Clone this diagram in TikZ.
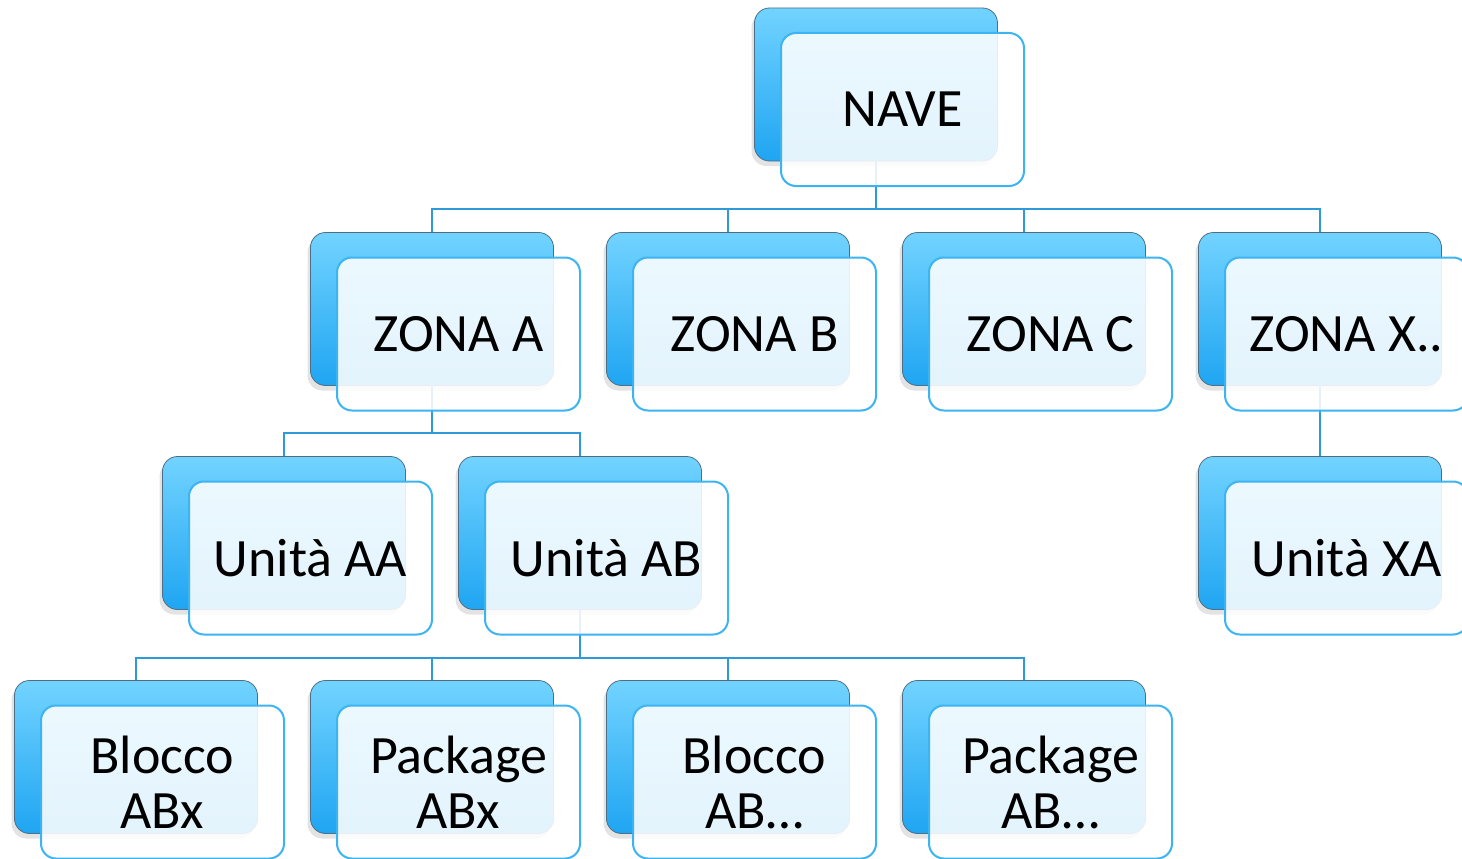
\documentclass[tikz,border=0pt]{standalone}
\usepackage{fontspec}
\setmainfont{Carlito}
\usetikzlibrary{shadows,calc}
\pgfdeclarelayer{bg}
\pgfsetlayers{bg,main}
\definecolor{linkblue}{HTML}{2E9AD8}
\definecolor{frontblue}{HTML}{3CB4F2}
\definecolor{backtop}{HTML}{72D3FF}
\definecolor{backbot}{HTML}{1FA5F2}
\definecolor{backline}{HTML}{4F6E84}
\tikzset{
  backcard/.style={rounded corners=15pt, minimum width=243pt, minimum height=153pt,
    inner sep=0pt, top color=backtop, bottom color=backbot, draw=backline, line width=0.8pt,
    drop shadow={opacity=0.22, shadow xshift=-3pt, shadow yshift=-5pt}},
  frontcard/.style={rounded corners=15pt, minimum width=243pt, minimum height=153pt,
    inner sep=0pt, fill=white, fill opacity=0.88, text opacity=1, draw=frontblue,
    draw opacity=1, line width=2pt, align=center, font=\fontsize{54}{55}\selectfont},
  link/.style={draw=linkblue, line width=2pt}
}
\newcommand{\card}[4]{%
  \node[backcard] (#1) at (#2,#3) {};
  \node[frontcard] (#1f) at ($(#2,#3)+(26.5,25)$) {#4};
}
\begin{document}
\begin{tikzpicture}[x=1pt,y=-1pt]
\useasboundingbox (0,0) rectangle (1462,859);
\card{nave}{876}{84.5}{NAVE}
\card{za}{432}{309}{ZONA A}
\card{zb}{728}{309}{ZONA B}
\card{zc}{1024}{309}{ZONA C}
\card{zx}{1320}{309}{ZONA X..}
\card{uaa}{284}{533}{Unità AA}
\card{uab}{580}{533}{Unità AB}
\card{uxa}{1320}{533}{Unità XA}
\card{bA}{136}{757}{Blocco\\ABx}
\card{pA}{432}{757}{Package\\ABx}
\card{bB}{728}{757}{Blocco\\AB…}
\card{pB}{1024}{757}{Package\\AB…}
\coordinate (h0) at (876,209);
\coordinate (h1) at (432,433);
\coordinate (h2) at (580,658);
\begin{pgfonlayer}{bg}
\draw[link] (nave.south) -- (h0);
\draw[link] (za.north) |- (h0) -| (zx.north);
\draw[link] (zb.north) |- (h0) -| (zc.north);
\draw[link] (za.south) -- (h1);
\draw[link] (uaa.north) |- (h1) -| (uab.north);
\draw[link] (zx.south) -- (uxa.north);
\draw[link] (uab.south) -- (h2);
\draw[link] (bA.north) |- (h2) -| (pB.north);
\draw[link] (pA.north) |- (h2) -| (bB.north);
\end{pgfonlayer}
\end{tikzpicture}
\end{document}
